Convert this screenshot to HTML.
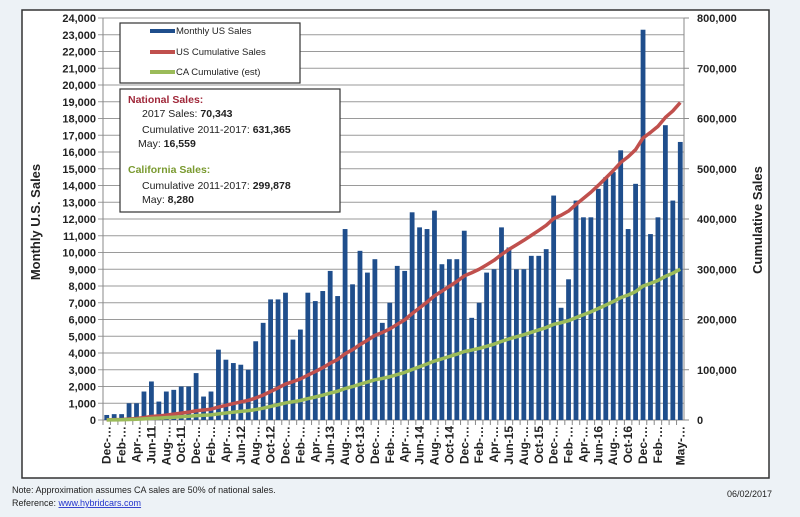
<!DOCTYPE html>
<html><head><meta charset="utf-8"><style>
body{margin:0;background:#edf2f6;font-family:"Liberation Sans",sans-serif;}
#wrap{position:relative;width:800px;height:517px;overflow:hidden;background:#edf2f6;}
svg text{font-family:"Liberation Sans",sans-serif;}
</style></head><body>
<div id="wrap">
<svg id="chart" width="800" height="517"></svg>
</div>
<script>
const months = ["Dec","Jan","Feb","Mar","Apr","May","Jun","Jul","Aug","Sep","Oct","Nov"];
const startYear = 10;
const monthlySales = [300,
 350,350,1000,1000,1700,2300,1100,1700,1800,2000,2000,2800,
 1400,1700,4200,3600,3400,3300,3000,4700,5800,7200,7200,7600,
 4800,5400,7600,7100,7700,8900,7400,11400,8100,10100,8800,9600,
 5800,7000,9200,8900,12400,11500,11400,12500,9300,9600,9600,11300,
 6100,7000,8800,9000,11500,10300,9000,9000,9800,9800,10200,13400,
 6700,8400,13100,12100,12100,13800,14500,14800,16100,11400,14100,23300,
 11100,12100,17600,13100,16600];
const caShare = 0.475;
const leftTicks = [0,1000,2000,3000,4000,5000,6000,7000,8000,9000,10000,11000,12000,13000,14000,15000,16000,17000,18000,19000,20000,21000,22000,23000,24000];
const rightTicks = [0,100000,200000,300000,400000,500000,600000,700000,800000];

const NS="http://www.w3.org/2000/svg";
const svg=document.getElementById('chart');
function mk(t,a,p){const e=document.createElementNS(NS,t);for(const k in a)e.setAttribute(k,a[k]);(p||svg).appendChild(e);return e;}
const X0=103,X1=684,Y0=420,Y1=18;
const n=monthlySales.length, step=(X1-X0)/n;
const yL=v=>Y0-(v/24000)*(Y0-Y1);
const yR=v=>Y0-(v/800000)*(Y0-Y1);
const xC=i=>X0+step*(i+0.5);
const fmt=v=>v.toLocaleString('en-US');

let f=mk('rect',{x:22,y:10,width:747,height:468,fill:'#fff',stroke:'#333','stroke-width':1.5});



leftTicks.forEach(v=>{
 const g=mk('line',{x1:X0-5,x2:X1,y1:yL(v),y2:yL(v),stroke:'#9a9a9a','stroke-width':1});
 
 
 const t=mk('text',{x:96,y:yL(v)+4,'text-anchor':'end','font-size':11,'font-weight':'bold',fill:'#222'});
 t.textContent=fmt(v);
 
 
});
rightTicks.forEach(v=>{
 mk('line',{x1:X1,x2:X1+5,y1:yR(v),y2:yR(v),stroke:'#888'});
 const t=mk('text',{x:697,y:yR(v)+4,'font-size':11,'font-weight':'bold',fill:'#222'});
 t.textContent=fmt(v);
 
 
});
mk('line',{x1:X0,x2:X0,y1:Y1,y2:Y0,stroke:'#888'});
mk('line',{x1:X1,x2:X1,y1:Y1,y2:Y0,stroke:'#888'});
mk('line',{x1:X0,x2:X1,y1:Y0,y2:Y0,stroke:'#888'});

monthlySales.forEach((v,i)=>{
 const b=mk('rect',{x:xC(i)-2.4,y:yL(v),width:4.8,height:Y0-yL(v),fill:'#1f4e8c'});
 
 
 mk('line',{x1:X0+step*i,x2:X0+step*i,y1:Y0,y2:Y0+5,stroke:'#888'});
});
let cum=0;const usPts=[],caPts=[];
monthlySales.forEach((v,i)=>{cum+=v;usPts.push(xC(i)+','+yR(cum));caPts.push(xC(i)+','+yR(cum*caShare));});
let l1=mk('polyline',{points:usPts.join(' '),fill:'none',stroke:'#c0504d','stroke-width':3.5,'stroke-linejoin':'round'});


let l2=mk('polyline',{points:caPts.join(' '),fill:'none',stroke:'#9bbb59','stroke-width':3.5,'stroke-linejoin':'round'});



const labelIdx=[];
for(let i=0;i<n-2;i+=2)labelIdx.push(i);
labelIdx.push(n-1);
labelIdx.forEach(i=>{
 const m=months[i%12];
 const y=startYear+Math.floor((i+11)/12);
 const label=(m==='Jun'||m==='Oct')?m+'-'+y:m+'-…';
 const t=mk('text',{x:0,y:0,'font-size':12,'font-weight':'bold',fill:'#222','text-anchor':'end',transform:`translate(${xC(i)+4},${Y0+6}) rotate(-90)`});
 t.textContent=label;
 
 
});

let yt=mk('text',{x:0,y:0,'font-size':13,'font-weight':'bold',fill:'#222','text-anchor':'middle',transform:'translate(40,222) rotate(-90)'});
yt.textContent='Monthly U.S. Sales';


let yt2=mk('text',{x:0,y:0,'font-size':13,'font-weight':'bold',fill:'#222','text-anchor':'middle',transform:'translate(762,220) rotate(-90)'});
yt2.textContent='Cumulative Sales';



let lg=mk('rect',{x:120,y:23,width:180,height:60,fill:'#fff',stroke:'#333','stroke-width':1.2});


[['Monthly US Sales','#1f4e8c',34],['US Cumulative Sales','#c0504d',55],['CA Cumulative (est)','#9bbb59',75]].forEach(([s,c,y])=>{
 mk('line',{x1:150,x2:175,y1:y-3,y2:y-3,stroke:c,'stroke-width':4});
 const t=mk('text',{x:176,y:y,'font-size':9.5,fill:'#222'});t.textContent=s;
 
 
});
let ib=mk('rect',{x:120,y:89,width:220,height:123,fill:'#fff',stroke:'#333','stroke-width':1.2});


const info=[['National Sales:',null,128,103,'#a0283a'],['2017 Sales:  ','70,343',142,117,'#222'],['Cumulative 2011-2017:  ','631,365',142,133,'#222'],['May: ','16,559',138,147,'#222'],['California Sales:',null,128,173,'#7a9a30'],['Cumulative 2011-2017:  ','299,878',142,189,'#222'],['May:  ','8,280',142,203,'#222']];
info.forEach(([a,b,x,y,c])=>{
 const t=mk('text',{x:x,y:y,'font-size':10.5,fill:c,'font-weight':b?'normal':'bold'});
 t.textContent=a;
 if(b){const s=mk('tspan',{'font-weight':'bold'},t);s.textContent=b;}
 
 
});
let n1=mk('text',{x:12,y:493,'font-size':9,fill:'#222'});n1.textContent='Note:  Approximation assumes CA sales are 50% of national sales.';

let n2=mk('text',{x:12,y:506,'font-size':9,fill:'#222'});n2.textContent='Reference: ';
let a=mk('tspan',{fill:'#2233cc','text-decoration':'underline'},n2);a.textContent='www.hybridcars.com';

let d=mk('text',{x:772,y:497,'font-size':9,fill:'#222','text-anchor':'end'});d.textContent='06/02/2017';

</script>
</body></html>
